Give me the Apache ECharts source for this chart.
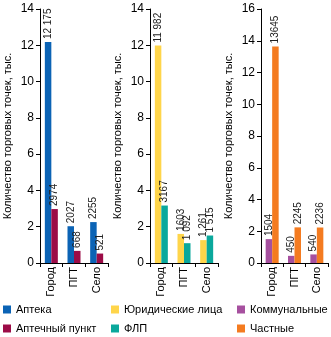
<!DOCTYPE html>
<html><head><meta charset="utf-8">
<script src="https://cdn.jsdelivr.net/npm/echarts@6/dist/echarts.min.js"></script>
<style>html,body{margin:0;padding:0;background:#fff}#c{width:331px;height:337px}</style>
</head><body><div id="c"></div>
<script>
const categories = ['Город', 'ПГТ', 'Село'];
const yTicks1 = [0, 14, 2];
const yTicks3 = [0, 16, 2];
const yName = 'Количество торговых точек, тыс.';

const apteka = [12.175, 2.027, 2.255];
const aptekaLabels = ['12 175', '2027', '2255'];
const punkt = [2.974, 0.668, 0.521];
const punktLabels = ['2974', '668', '521'];

const yur = [11.982, 1.603, 1.261];
const yurLabels = ['11 982', '1603', '1 261'];
const flp = [3.167, 1.092, 1.515];
const flpLabels = ['3167', '1 092', '1 515'];

const komm = [1.504, 0.450, 0.540];
const kommLabels = ['1504', '450', '540'];
const chast = [13.645, 2.245, 2.236];
const chastLabels = ['13645', '2245', '2236'];

const names = ['Аптека', 'Аптечный пункт', 'Юридические лица', 'ФЛП', 'Коммунальные', 'Частные'];
const colors = ['#0b63b5', '#9c0c47', '#ffd54a', '#0aa89c', '#a6509f', '#f47b20'];

const font = 'Liberation Sans, Arial, sans-serif';
const chart = echarts.init(document.getElementById('c'), null, {renderer: 'canvas'});

const grids = [
  {left: 40, top: 9, width: 68, height: 254},
  {left: 150, top: 9, width: 68, height: 254},
  {left: 261, top: 9, width: 67, height: 254}
];
const xAxes = grids.map((g, i) => ({
  type: 'category', gridIndex: i, data: categories,
  axisLine: {lineStyle: {color: '#000', width: 1}},
  axisTick: {show: true, length: 4, lineStyle: {color: '#000'}},
  axisLabel: {rotate: 90, fontSize: 11, color: '#000', fontFamily: font, margin: 4}
}));
const yAxes = grids.map((g, i) => {
  const t = i === 2 ? yTicks3 : yTicks1;
  return {
    type: 'value', gridIndex: i, min: t[0], max: t[1], interval: t[2],
    name: yName, nameLocation: 'middle', nameGap: 27, nameRotate: 90,
    nameTextStyle: {fontSize: 11, color: '#000', fontFamily: font},
    axisLine: {show: true, lineStyle: {color: '#000', width: 1}},
    axisTick: {show: true, length: 4, inside: false, lineStyle: {color: '#000'}},
    axisLabel: {fontSize: 12, color: '#000', fontFamily: font, margin: 6},
    splitLine: {show: false}
  };
});

function mk(name, data, labels, idx, color) {
  return {
    name: name, type: 'bar', xAxisIndex: idx, yAxisIndex: idx, data: data,
    barWidth: 6.5, barGap: '0%',
    itemStyle: {color: color},
    label: {
      show: true, position: 'top', rotate: 90, align: 'left', verticalAlign: 'middle',
      distance: 3, fontSize: 10, color: '#222', fontFamily: font,
      formatter: p => labels[p.dataIndex]
    }
  };
}

const series = [
  mk(names[0], apteka, aptekaLabels, 0, colors[0]),
  mk(names[1], punkt, punktLabels, 0, colors[1]),
  mk(names[2], yur, yurLabels, 1, colors[2]),
  mk(names[3], flp, flpLabels, 1, colors[3]),
  mk(names[4], komm, kommLabels, 2, colors[4]),
  mk(names[5], chast, chastLabels, 2, colors[5])
];

const legendBase = {
  type: 'plain', orient: 'vertical', top: 304, height: 33, itemWidth: 8, itemHeight: 8, itemGap: 8,
  icon: 'rect', selectedMode: false, padding: 0,
  textStyle: {fontSize: 11, color: '#000', fontFamily: font}
};
const legends = [
  Object.assign({}, legendBase, {left: 3, data: [names[0], names[1]]}),
  Object.assign({}, legendBase, {left: 111, data: [names[2], names[3]]}),
  Object.assign({}, legendBase, {left: 237, data: [names[4], names[5]]})
];

chart.setOption({
  animation: false,
  color: colors,
  grid: grids, xAxis: xAxes, yAxis: yAxes, series: series, legend: legends
});
</script></body></html>
